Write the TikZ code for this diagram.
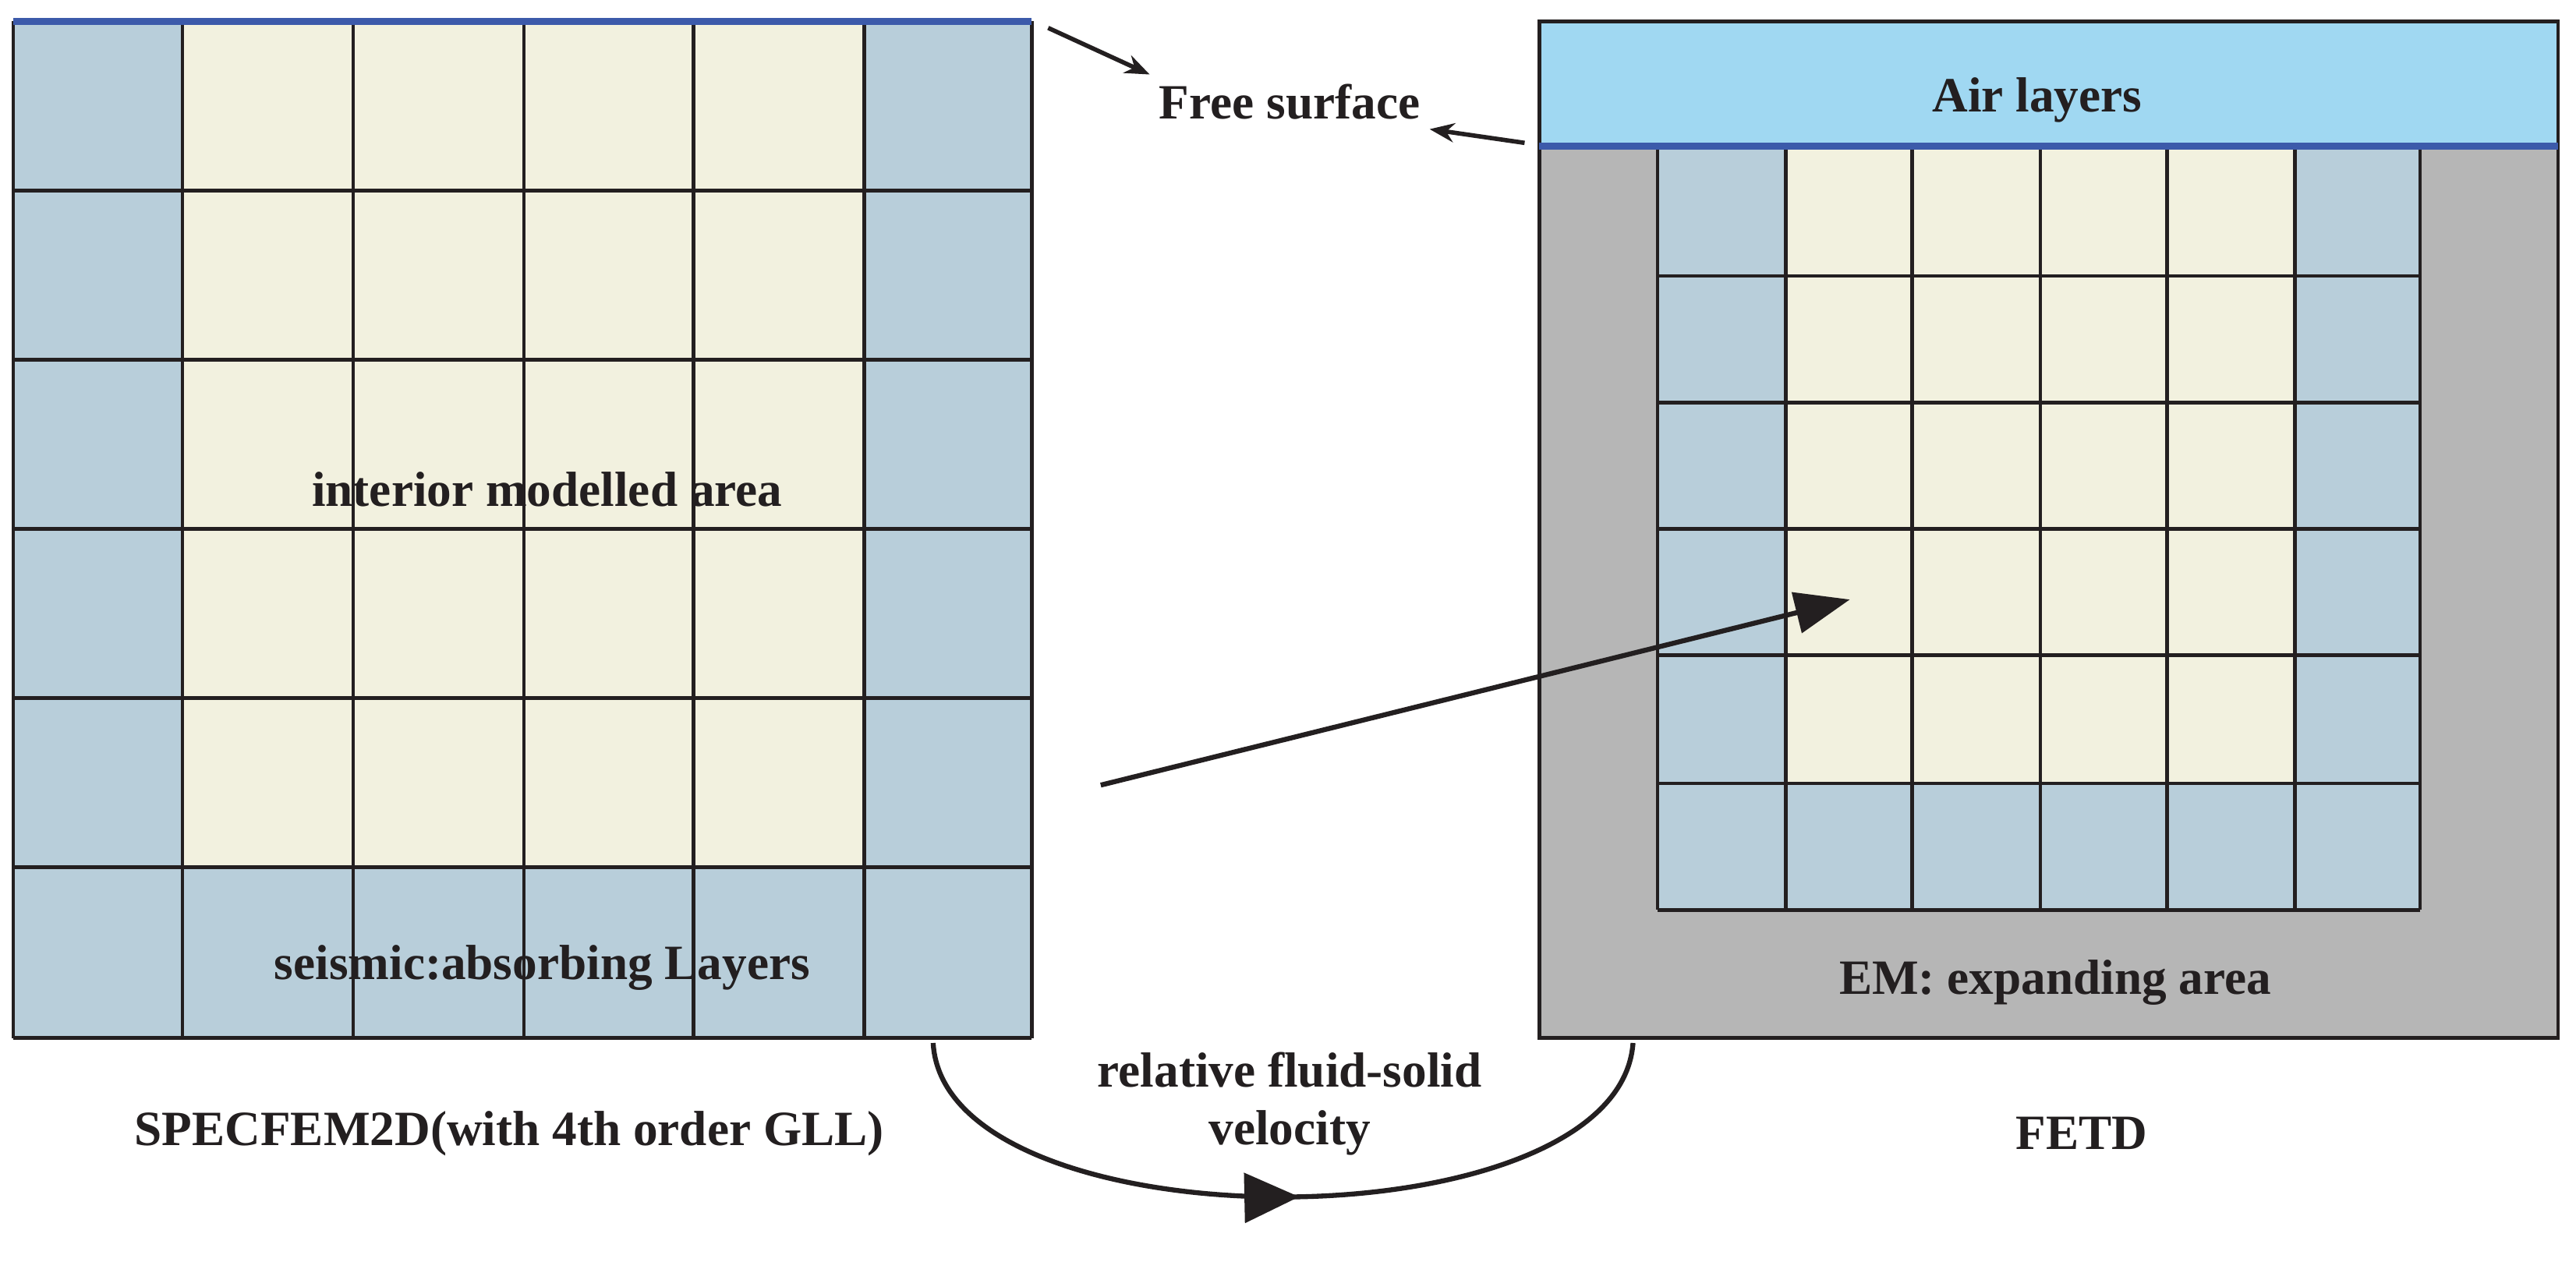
\documentclass[tikz,border=0pt]{standalone}
\usepackage{fontspec}
\setmainfont{Liberation Serif}
\usetikzlibrary{arrows.meta,decorations.markings}
\definecolor{absorb}{RGB}{184,206,218}
\definecolor{inner}{RGB}{242,241,223}
\definecolor{airc}{RGB}{160,216,242}
\definecolor{expand}{RGB}{182,182,182}
\definecolor{surf}{RGB}{60,90,170}
\definecolor{ink}{RGB}{35,31,32}
\tikzset{
  lbl/.style={font=\fontsize{18}{21}\selectfont\bfseries, text=ink, align=center},
  grid/.style={draw=ink, line width=1.3pt},
  ptr/.style={draw=ink, line width=1.6pt, -{Stealth[length=9pt,width=7pt]}},
}
\begin{document}
\begin{tikzpicture}[x=0.02107cm, y=-0.02107cm]
\useasboundingbox (0,0) rectangle (1568,768);
% left model: SPECFEM2D grid
\fill[absorb] (8,13) rectangle (628,632);
\fill[inner] (111,13) rectangle (526,528);
\foreach \x in {8,111,215,319,422,526,628} \draw[grid] (\x,13) -- (\x,632);
\foreach \y in {13,116,219,322,425,528,632} \draw[grid] (8,\y) -- (628,\y);
\draw[surf, line width=2.5pt] (8,13) -- (628,13);
% right model: FETD
\fill[expand] (937,13) rectangle (1557,632);
\fill[airc] (937,13) rectangle (1557,89);
\fill[absorb] (1009,91) rectangle (1473,554);
\fill[inner] (1087,91) rectangle (1397,477);
\foreach \x in {1009,1087,1164,1242,1319,1397,1473} \draw[grid] (\x,91) -- (\x,554);
\foreach \y in {168,245,322,399,477,554} \draw[grid] (1009,\y) -- (1473,\y);
\draw[grid] (937,13) rectangle (1557,632);
\draw[surf, line width=2.5pt] (937,89) -- (1557,89);
% labels
\node[lbl] (interior) at (333,298) {interior modelled area};
\node[lbl] (absorbing) at (330,589) {seismic:absorbing Layers};
\node[lbl] (spec) at (310,690) {SPECFEM2D(with 4th order GLL)};
\node[lbl] (coupling) at (785,672) {relative fluid-solid\\velocity};
\node[lbl] (fetd) at (1267,690) {FETD};
\node[lbl] (expanding) at (1251,598) {EM: expanding area};
\node[lbl] (air) at (1240,61) {Air layers};
\node[lbl] (free) at (785,62) {Free surface};
% pointers
\coordinate (ls) at (638,17);
\coordinate (rs) at (928,87);
\coordinate (src) at (670,478);
\coordinate (dst) at (1126,365);
\coordinate (cl) at (568,635);
\coordinate (cr) at (994,635);
\draw[ptr] (ls) -- (free.north west);
\draw[ptr] (rs) -- (free.south east);
\draw[draw=ink, line width=1.8pt, -{Triangle[length=20pt,width=15pt]}] (src) -- (dst);
\draw[draw=ink, line width=1.8pt,
  decoration={markings, mark=at position 0.52 with {\arrow{Triangle[length=20pt,width=18pt]}}},
  postaction=decorate]
  (cl) .. controls (575,760) and (985,760) .. (cr);
\end{tikzpicture}
\end{document}
